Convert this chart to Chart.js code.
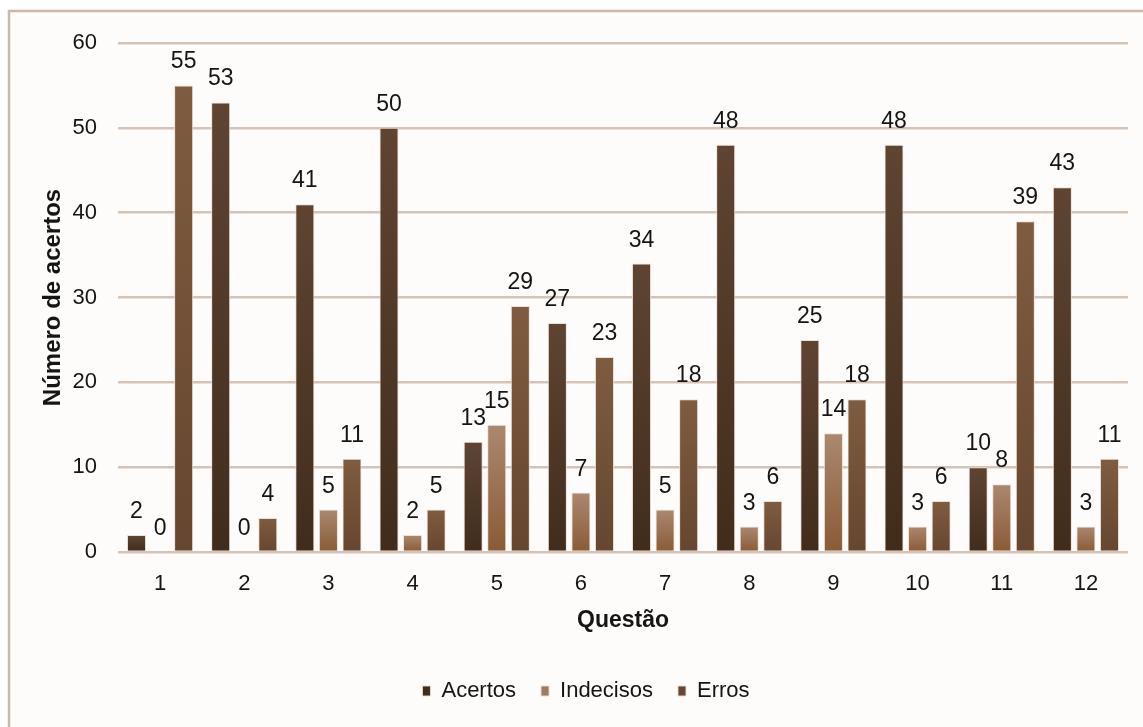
<!DOCTYPE html>
<html>
<head>
<meta charset="utf-8">
<script src="https://cdn.jsdelivr.net/npm/chart.js@4.4.1/dist/chart.umd.min.js"></script>
<style>
  html, body { margin: 0; padding: 0; background: #ffffff; }
  #wrap { width: 1143px; height: 727px; position: relative; }
</style>
</head>
<body>
<div id="wrap"><canvas id="c" width="1143" height="727"></canvas></div>
<script>
const categories = ['1','2','3','4','5','6','7','8','9','10','11','12'];
const acertos   = [2, 53, 41, 50, 13, 27, 34, 48, 25, 48, 10, 43];
const indecisos = [0, 0, 5, 2, 15, 7, 5, 3, 14, 3, 8, 3];
const erros     = [55, 4, 11, 5, 29, 23, 18, 6, 18, 6, 39, 11];
const seriesNames = ['Acertos', 'Indecisos', 'Erros'];
const yTicks = [0, 10, 20, 30, 40, 50, 60];

const FONT = "'Liberation Sans', Arial, sans-serif";

// top color, bottom color, solid
const palettes = [
  ['#5f4432', '#412c1c', '#563e2b'],
  ['#ab8870', '#8a5a35', '#a07a5e'],
  ['#7f5c40', '#664630', '#775639']
];

function gradFor(idx) {
  return function(ctx) {
    const chart = ctx.chart;
    const pal = palettes[idx];
    if (ctx.dataIndex === undefined || !chart.chartArea || !chart.scales.y) return pal[2];
    const y = chart.scales.y;
    const v = ctx.raw;
    const top = y.getPixelForValue(v);
    const bottom = y.getPixelForValue(0);
    if (!(bottom - top > 1)) return pal[2];
    const g = chart.ctx.createLinearGradient(0, top, 0, bottom);
    g.addColorStop(0, pal[0]);
    g.addColorStop(1, pal[1]);
    return g;
  };
}

const framePlugin = {
  id: 'frame',
  beforeDraw(chart) {
    const c = chart.ctx;
    c.save();
    c.fillStyle = '#ffffff';
    c.fillRect(0, 0, chart.width, chart.height);
    c.fillStyle = '#fdfcfa';
    c.fillRect(9, 11, chart.width, chart.height);
    c.strokeStyle = '#cdb8a7';
    c.lineWidth = 2.5;
    c.beginPath();
    c.moveTo(9, chart.height + 5);
    c.lineTo(9, 11);
    c.lineTo(chart.width + 5, 11);
    c.stroke();
    c.restore();
  }
};

const labelPlugin = {
  id: 'valueLabels',
  afterDatasetsDraw(chart) {
    const c = chart.ctx;
    c.save();
    c.font = '23px ' + FONT;
    c.fillStyle = '#151515';
    c.textAlign = 'center';
    c.textBaseline = 'alphabetic';
    chart.data.datasets.forEach((ds, i) => {
      const meta = chart.getDatasetMeta(i);
      meta.data.forEach((bar, j) => {
        c.fillText(String(ds.data[j]), bar.x, bar.y - 17);
      });
    });
    c.restore();
  }
};

const seriesData = [acertos, indecisos, erros];
const datasets = seriesNames.map((name, i) => ({
  label: name,
  data: seriesData[i],
  backgroundColor: gradFor(i),
  borderColor: 'rgba(235,222,210,0.9)',
  borderWidth: 1,
  categoryPercentage: 0.84,
  barPercentage: 0.81
}));

new Chart(document.getElementById('c'), {
  type: 'bar',
  data: { labels: categories, datasets },
  plugins: [framePlugin, labelPlugin],
  options: {
    responsive: false,
    animation: false,
    layout: { padding: { left: 44, right: 15, top: 43, bottom: 15 } },
    plugins: {
      legend: {
        position: 'bottom',
        labels: {
          font: { family: FONT, size: 22 },
          color: '#151515',
          boxWidth: 8,
          boxHeight: 10,
          padding: 25
        }
      },
      tooltip: { enabled: false }
    },
    scales: {
      x: {
        afterFit(scale) { scale.height = 103; },
        grid: { display: false, drawTicks: false },
        border: { display: false },
        ticks: { font: { family: FONT, size: 22 }, color: '#151515', padding: 19 },
        title: {
          display: true,
          text: 'Questão',
          font: { family: FONT, size: 23, weight: 'bold' },
          color: '#151515',
          padding: { top: 10, bottom: 21 }
        }
      },
      y: {
        min: 0,
        max: 60,
        afterBuildTicks(scale) { scale.ticks = yTicks.map(v => ({ value: v })); },
        afterFit(scale) { scale.width = 74; },
        grid: { color: '#d6c3b5', lineWidth: 2.5, drawTicks: false },
        border: { display: false },
        ticks: { font: { family: FONT, size: 22 }, color: '#151515', padding: 21 },
        title: {
          display: true,
          text: 'Número de acertos',
          font: { family: FONT, size: 24, weight: 'bold', lineHeight: 0.8 },
          color: '#151515',
          padding: { top: 0, bottom: 0 }
        }
      }
    }
  }
});
</script>
</body>
</html>
